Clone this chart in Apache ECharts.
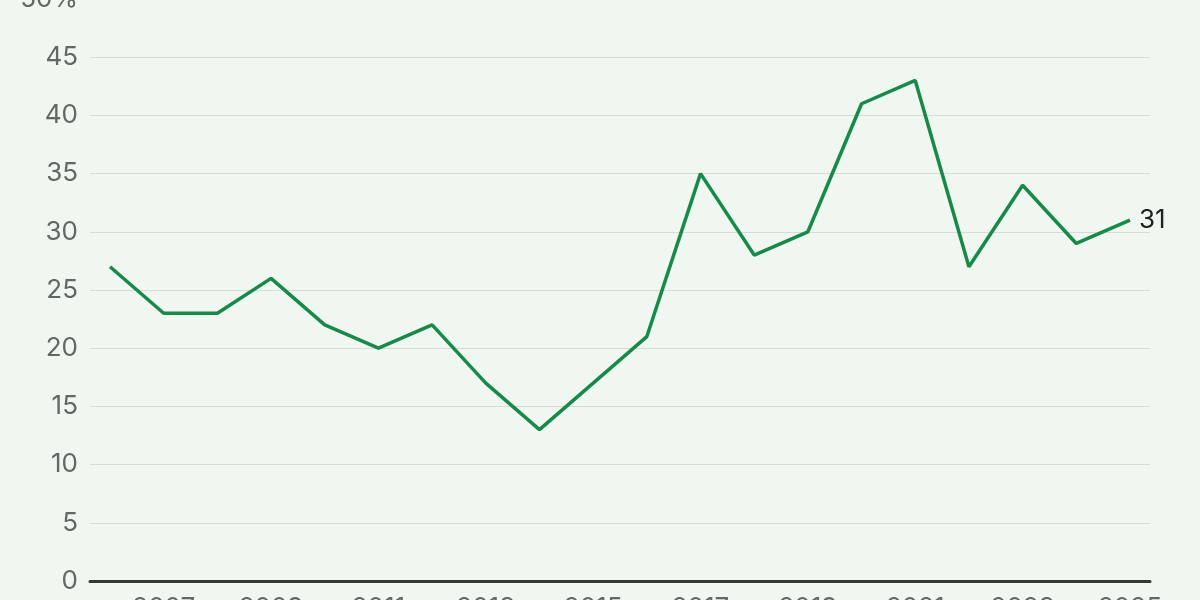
<!DOCTYPE html>
<html><head><meta charset="utf-8">
<script src="https://cdn.jsdelivr.net/npm/echarts@6/dist/echarts.min.js"></script>
<style>html,body{margin:0;padding:0;background:#f0f7f0;}#c{width:1200px;height:600px;}</style>
</head><body><div id="c"></div>
<script>
const years = [2006,2007,2008,2009,2010,2011,2012,2013,2014,2015,2016,2017,2018,2019,2020,2021,2022,2023,2024,2025];
const values = [27,23,23,26,22,20,22,17,13,17,21,35,28,30,41,43,27,34,29,31];
const xTickLabels = [2007,2009,2011,2013,2015,2017,2019,2021,2023,2025];

const chart = echarts.init(document.getElementById('c'), null, {renderer:'canvas'});
chart.setOption({
  backgroundColor:'#f0f7f0',
  animation:false,
  grid:{left:90,right:50,top:-1,bottom:19,containLabel:false,outerBoundsMode:'none'},
  xAxis:{
    type:'value', min:2005.627, max:2025.373,
    axisLine:{show:true,onZero:false,lineStyle:{color:'#333a33',width:3}},
    axisTick:{show:false},
    splitLine:{show:false},
    axisLabel:{customValues:xTickLabels,color:'#666',fontSize:26,margin:14,fontFamily:'Inter, Roboto, sans-serif',formatter:v=>String(v)}
  },
  yAxis:{
    type:'value', min:0, max:50, interval:5,
    axisLine:{show:false}, axisTick:{show:false},
    splitLine:{lineStyle:{color:'#d6ddd6',width:1}},
    axisLabel:{color:'#666',fontSize:26,margin:12,fontFamily:'Inter, Roboto, sans-serif',
      formatter:v=> v===50 ? '50%' : String(v)}
  },
  series:[{
    type:'line',
    data: years.map((y,i)=>[y,values[i]]),
    symbol:'none',
    lineStyle:{color:'#178a4a',width:3.5},
    endLabel:{show:true,formatter:p=>String(p.value[1]),color:'#222',fontSize:26,distance:9,fontFamily:'Inter, Roboto, sans-serif'},
    z:5
  }]
});
</script></body></html>
